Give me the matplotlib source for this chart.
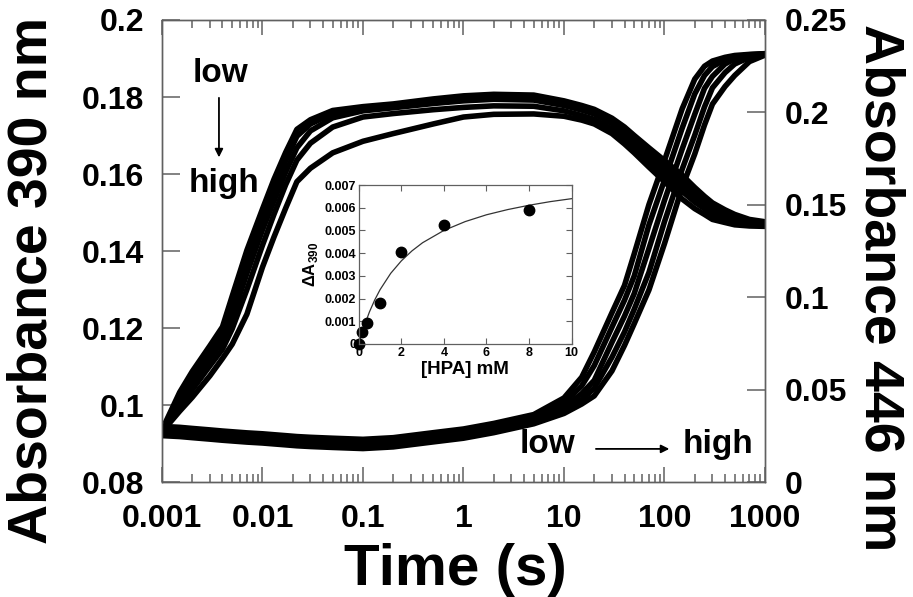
import matplotlib
matplotlib.use("Agg")
import matplotlib.pyplot as plt
from matplotlib.ticker import FuncFormatter, MultipleLocator, LogLocator

plt.rcParams["font.family"] = ["Liberation Sans", "DejaVu Sans"]
plt.rcParams["font.weight"] = "bold"
plt.rcParams["mathtext.fontset"] = "custom"
plt.rcParams["mathtext.rm"] = "Liberation Sans:bold"
plt.rcParams["mathtext.bf"] = "Liberation Sans:bold"

# time points (s)
time_s = [0.001, 0.0015, 0.002, 0.003, 0.004, 0.005, 0.007, 0.01, 0.013, 0.017,
          0.022, 0.03, 0.05, 0.1, 0.2, 0.5, 1, 2, 5, 10,
          15, 20, 30, 40, 50, 70, 100, 150, 200, 250,
          300, 400, 500, 700, 1000]

# absorbance at 390 nm, low -> high [HPA]
a390_1 = [0.0935, 0.1033, 0.1087, 0.1154, 0.1203, 0.1283, 0.1402, 0.1509, 0.1586, 0.1656,
          0.1716, 0.1741, 0.1765, 0.1775, 0.1782, 0.1795, 0.1803, 0.1807, 0.1805, 0.1790,
          0.1778, 0.1768, 0.1745, 0.1722, 0.1700, 0.1668, 0.1635, 0.1597, 0.1565, 0.1542,
          0.1525, 0.1507, 0.1495, 0.1482, 0.1476]
a390_2 = [0.0935, 0.1020, 0.1074, 0.1140, 0.1186, 0.1255, 0.1375, 0.1484, 0.1560, 0.1635,
          0.1698, 0.1730, 0.1757, 0.1770, 0.1777, 0.1789, 0.1797, 0.1801, 0.1799, 0.1784,
          0.1772, 0.1762, 0.1738, 0.1713, 0.1691, 0.1657, 0.1623, 0.1584, 0.1553, 0.1532,
          0.1515, 0.1500, 0.1489, 0.1477, 0.1473]
a390_3 = [0.0933, 0.1005, 0.1058, 0.1122, 0.1166, 0.1228, 0.1342, 0.1455, 0.1530, 0.1605,
          0.1668, 0.1712, 0.1746, 0.1764, 0.1772, 0.1783, 0.1790, 0.1794, 0.1792, 0.1778,
          0.1766, 0.1756, 0.1731, 0.1706, 0.1684, 0.1648, 0.1612, 0.1572, 0.1542, 0.1523,
          0.1506, 0.1494, 0.1483, 0.1473, 0.1470]
a390_4 = [0.0932, 0.0994, 0.1040, 0.1102, 0.1145, 0.1198, 0.1300, 0.1415, 0.1495, 0.1572,
          0.1636, 0.1680, 0.1722, 0.1748, 0.1757, 0.1767, 0.1773, 0.1777, 0.1776, 0.1764,
          0.1752, 0.1742, 0.1717, 0.1692, 0.1669, 0.1632, 0.1596, 0.1555, 0.1527, 0.1510,
          0.1494, 0.1484, 0.1476, 0.1469, 0.1467]
a390_5 = [0.0930, 0.0984, 0.1020, 0.1076, 0.1121, 0.1158, 0.1236, 0.1358, 0.1436, 0.1511,
          0.1580, 0.1615, 0.1655, 0.1685, 0.1705, 0.1730, 0.1748, 0.1755, 0.1756, 0.1750,
          0.1740, 0.1730, 0.1705, 0.1678, 0.1655, 0.1618, 0.1580, 0.1535, 0.1510, 0.1495,
          0.1482, 0.1474, 0.1468, 0.1465, 0.1464]

# absorbance at 446 nm, low -> high [HPA]
a446_1 = [0.0301, 0.0296, 0.0290, 0.0282, 0.0276, 0.0272, 0.0266, 0.0261, 0.0256, 0.0251,
          0.0246, 0.0242, 0.0237, 0.0231, 0.0240, 0.0267, 0.0287, 0.0317, 0.0365, 0.0455,
          0.0567, 0.0704, 0.0916, 0.1064, 0.1235, 0.1501, 0.1740, 0.2020, 0.2180, 0.2250,
          0.2278, 0.2298, 0.2308, 0.2314, 0.2318]
a446_2 = [0.0288, 0.0283, 0.0277, 0.0269, 0.0263, 0.0259, 0.0253, 0.0248, 0.0243, 0.0238,
          0.0233, 0.0229, 0.0224, 0.0218, 0.0227, 0.0254, 0.0274, 0.0304, 0.0350, 0.0431,
          0.0520, 0.0630, 0.0838, 0.0984, 0.1115, 0.1391, 0.1634, 0.1915, 0.2100, 0.2200,
          0.2248, 0.2285, 0.2300, 0.2312, 0.2317]
a446_3 = [0.0276, 0.0271, 0.0265, 0.0257, 0.0251, 0.0247, 0.0241, 0.0236, 0.0231, 0.0226,
          0.0221, 0.0217, 0.0212, 0.0206, 0.0215, 0.0242, 0.0262, 0.0292, 0.0335, 0.0405,
          0.0478, 0.0550, 0.0756, 0.0898, 0.1020, 0.1263, 0.1524, 0.1802, 0.1990, 0.2130,
          0.2195, 0.2262, 0.2290, 0.2308, 0.2316]
a446_4 = [0.0264, 0.0259, 0.0253, 0.0245, 0.0239, 0.0235, 0.0229, 0.0224, 0.0219, 0.0214,
          0.0209, 0.0205, 0.0200, 0.0194, 0.0203, 0.0230, 0.0250, 0.0280, 0.0325, 0.0388,
          0.0445, 0.0508, 0.0675, 0.0812, 0.0935, 0.1134, 0.1409, 0.1693, 0.1877, 0.2030,
          0.2133, 0.2215, 0.2262, 0.2298, 0.2314]
a446_5 = [0.0251, 0.0246, 0.0240, 0.0232, 0.0226, 0.0222, 0.0216, 0.0211, 0.0206, 0.0201,
          0.0196, 0.0192, 0.0187, 0.0181, 0.0190, 0.0217, 0.0237, 0.0267, 0.0315, 0.0371,
          0.0422, 0.0466, 0.0601, 0.0739, 0.0857, 0.1039, 0.1290, 0.1595, 0.1775, 0.1932,
          0.2045, 0.2140, 0.2200, 0.2275, 0.2310]

# inset: amplitude vs [HPA]
hpa_mm = [0, 0.15, 0.375, 1, 2, 4, 8]
delta_a390 = [0.0, 0.00051, 0.00094, 0.00182, 0.00405, 0.00524, 0.0059]
fit_hpa = [0, 0.25, 0.5, 0.75, 1, 1.5, 2, 2.5, 3, 4, 5, 6, 7, 8, 9, 10]
fit_da = [0.0, 0.00077, 0.00141, 0.00194, 0.00239, 0.00311, 0.00366, 0.0041, 0.00446,
          0.005, 0.00539, 0.00569, 0.00592, 0.00611, 0.00627, 0.0064]

spine_col = "#606060"
fmt = FuncFormatter(lambda v, p: f"{v:g}")

fig = plt.figure(figsize=(9.13, 5.97), dpi=100)
ax = fig.add_axes([0.1774, 0.1926, 0.6605, 0.7739])
ax2 = ax.twinx()

for trace in [a390_1, a390_2, a390_3, a390_4, a390_5]:
    ax.plot(time_s, trace, color="black", lw=4, solid_joinstyle="round")
for trace in [a446_1, a446_2, a446_3, a446_4, a446_5]:
    ax2.plot(time_s, trace, color="black", lw=4, solid_joinstyle="round")

ax.set_xscale("log")
ax.set_xlim(0.001, 1000)
ax.set_ylim(0.08, 0.2)
ax2.set_ylim(0, 0.25)
ax.xaxis.set_major_locator(LogLocator(base=10))
ax.xaxis.set_minor_locator(LogLocator(base=10, subs=[2, 3, 4, 5, 6, 7, 8, 9]))
ax.yaxis.set_major_locator(MultipleLocator(0.02))
ax2.yaxis.set_major_locator(MultipleLocator(0.05))
ax.xaxis.set_major_formatter(fmt)
ax.xaxis.set_minor_formatter(FuncFormatter(lambda v, p: ""))
ax.yaxis.set_major_formatter(fmt)
ax2.yaxis.set_major_formatter(fmt)

for a in (ax, ax2):
    for s in a.spines.values():
        s.set_color(spine_col)
        s.set_linewidth(1.0)
ax.tick_params(axis="x", which="major", direction="in", length=11, width=1.1,
               color=spine_col, top=True, bottom=True, labelsize=23, pad=16)
ax.tick_params(axis="x", which="minor", direction="in", length=5.5, width=1.1,
               color=spine_col, top=True, bottom=True)
ax.tick_params(axis="y", which="major", direction="in", length=13, width=1.1,
               color=spine_col, left=True, right=False, labelsize=23, pad=13)
ax2.tick_params(axis="y", which="major", direction="in", length=13, width=1.1,
                color=spine_col, right=True, labelsize=23, pad=14)

ax.set_ylabel("Absorbance 390 nm", fontsize=40, fontweight="bold",
              rotation=90, ha="center", va="center")
ax.yaxis.set_label_coords(-0.214, 0.437)
ax2.set_ylabel("Absorbance 446 nm", fontsize=40, fontweight="bold",
               rotation=-90, ha="center", va="center")
ax2.yaxis.set_label_coords(1.19, 0.42)
ax.set_xlabel("Time (s)", fontsize=42, fontweight="bold")
ax.xaxis.set_label_coords(0.486, -0.19)
ax.xaxis.label.set_va("center")

arrow = dict(arrowstyle="-|>", color="black", lw=1.3, mutation_scale=12)
ax.text(0.0038, 0.1862, "low", fontsize=24, fontweight="bold", ha="center", va="center")
ax.text(0.0041, 0.1576, "high", fontsize=24, fontweight="bold", ha="center", va="center")
ax.annotate("", xy=(0.00369, 0.1636), xytext=(0.00369, 0.1805), arrowprops=arrow)
ax.text(6.8, 0.0898, "low", fontsize=24, fontweight="bold", ha="center", va="center")
ax.text(340, 0.0898, "high", fontsize=24, fontweight="bold", ha="center", va="center")
ax.annotate("", xy=(119, 0.0886), xytext=(19.5, 0.0886), arrowprops=arrow)

# inset
axi = fig.add_axes([0.393, 0.424, 0.233, 0.266])
axi.plot(fit_hpa, fit_da, color="#333333", lw=0.9)
axi.plot(hpa_mm, delta_a390, "o", color="black", ms=7.5, clip_on=False)
axi.set_xlim(0, 10)
axi.set_ylim(0, 0.007)
axi.xaxis.set_major_locator(MultipleLocator(2))
axi.yaxis.set_major_locator(MultipleLocator(0.001))
axi.xaxis.set_major_formatter(fmt)
axi.yaxis.set_major_formatter(fmt)
for s in axi.spines.values():
    s.set_color(spine_col)
    s.set_linewidth(0.9)
axi.tick_params(direction="in", length=4, width=0.8, color=spine_col,
                top=True, right=True, labelsize=9, pad=2)
axi.set_xlabel("[HPA] mM", fontsize=13.5, fontweight="bold", labelpad=2)
axi.set_ylabel(r"ΔA$_{390}$", fontsize=12, fontweight="bold", labelpad=3)

fig.savefig("out.png", dpi=100)
